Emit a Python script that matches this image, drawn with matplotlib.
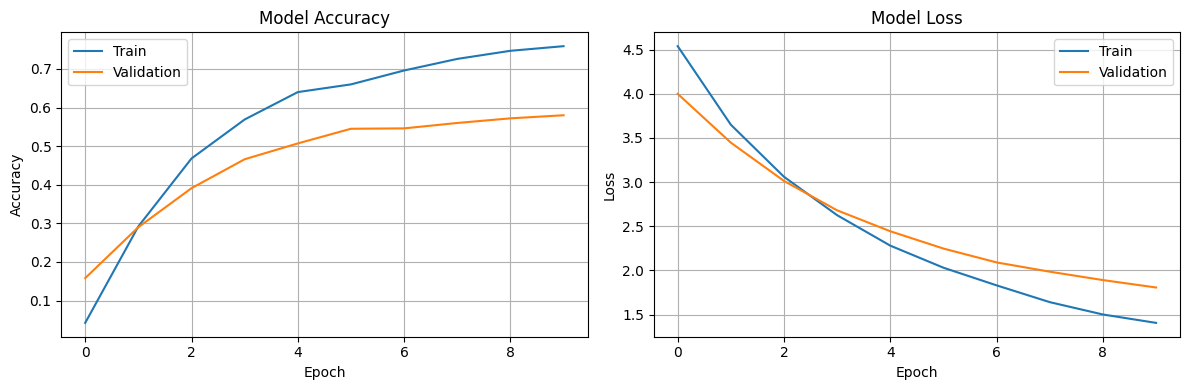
import matplotlib
matplotlib.use("Agg")
import matplotlib.pyplot as plt

epochs = list(range(10))
train_acc = [0.042, 0.292, 0.468, 0.569, 0.640, 0.660, 0.696, 0.726, 0.747, 0.759]
val_acc = [0.158, 0.290, 0.391, 0.466, 0.507, 0.545, 0.546, 0.560, 0.572, 0.580]
train_loss = [4.54, 3.65, 3.06, 2.625, 2.28, 2.03, 1.83, 1.64, 1.50, 1.405]
val_loss = [4.00, 3.447, 3.013, 2.68, 2.443, 2.247, 2.09, 1.985, 1.89, 1.806]

fig, (ax1, ax2) = plt.subplots(1, 2, figsize=(12, 4), dpi=100)

ax1.plot(epochs, train_acc, label="Train")
ax1.plot(epochs, val_acc, label="Validation")
ax1.set_title("Model Accuracy")
ax1.set_xlabel("Epoch")
ax1.set_ylabel("Accuracy")
ax1.legend()
ax1.grid(True)

ax2.plot(epochs, train_loss, label="Train")
ax2.plot(epochs, val_loss, label="Validation")
ax2.set_title("Model Loss")
ax2.set_xlabel("Epoch")
ax2.set_ylabel("Loss")
ax2.legend()
ax2.grid(True)

fig.tight_layout()
fig.savefig("out.png", bbox_inches="tight")
